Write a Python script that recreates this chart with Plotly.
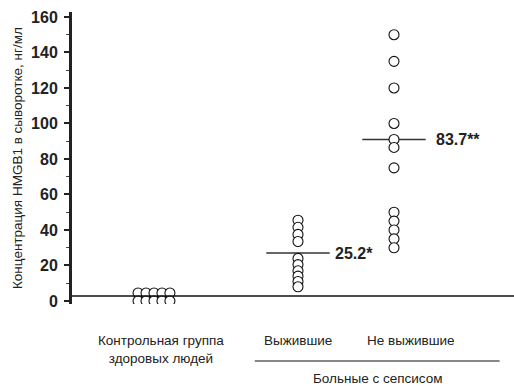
import plotly.graph_objects as go

# ---- data ----
group_names = ["Контрольная группа<br>здоровых людей", "Выжившие", "Не выжившие"]
group_pos = [0.0, 1.5, 2.5]
control_vals = [4.5, 4.5, 4.5, 4.5, 4.5, 0, 0, 0, 0, 0]
survivor_vals = [45.5, 41.5, 37.5, 33.5, 24, 20.5, 17, 14, 11, 8]
nonsurvivor_vals = [150, 135, 120, 100, 91, 86.5, 75, 50, 45, 40, 35, 30]
center_vals = [27, 91]
center_labels = ["25.2*", "83.7**"]
baseline_val = 2.8
y_ticks = [0, 20, 40, 60, 80, 100, 120, 140, 160]
group_label = "Больные с сепсисом"
y_title = "Концентрация HMGB1 в сыворотке, нг/мл"

FONT = "Liberation Sans, Arial, sans-serif"
L, R, T, B, W, H = 72, 0, 12, 82, 514, 386
PH = H - T - B
PW = W - L - R

fig = go.Figure()

marker = dict(size=10, color="white", symbol="circle",
              line=dict(color="#111", width=1.1))

# control: 5 columns x 2 rows
ncol = 5
cx = [group_pos[0] + (i % ncol - (ncol - 1) / 2) * 0.083 for i in range(len(control_vals))]
fig.add_trace(go.Scatter(x=cx, y=control_vals, mode="markers", marker=marker, hoverinfo="skip"))
fig.add_trace(go.Scatter(x=[group_pos[1]] * len(survivor_vals), y=survivor_vals,
                         mode="markers", marker=marker, hoverinfo="skip"))
fig.add_trace(go.Scatter(x=[group_pos[2]] * len(nonsurvivor_vals), y=nonsurvivor_vals,
                         mode="markers", marker=marker, hoverinfo="skip"))

# baseline
fig.add_shape(type="line", xref="paper", yref="y", x0=0, x1=1, y0=baseline_val, y1=baseline_val,
              line=dict(color="#111", width=1.3))

# center lines and labels
label_gap = [0.36, 0.42]
for gp, v, lab, g in zip(group_pos[1:], center_vals, center_labels, label_gap):
    fig.add_shape(type="line", xref="x", yref="y", x0=gp - 0.33, x1=gp + 0.33, y0=v, y1=v,
                  line=dict(color="#333", width=1.4), layer="below")
    fig.add_annotation(x=gp + g, y=v, text="<b>%s</b>" % lab, showarrow=False,
                       xanchor="left", yanchor="middle",
                       font=dict(size=16, color="#222", family=FONT))

# category labels (text is offset slightly from the point columns)
label_shift = [0.07, 0.0, 0.18]
for gp, name, s in zip(group_pos, group_names, label_shift):
    fig.add_annotation(x=gp + s, y=-(331 - (T + PH)) / PH, yref="paper", text=name,
                       showarrow=False, xanchor="center", yanchor="top",
                       font=dict(size=13.5, color="#222", family=FONT))

# sepsis bracket line and label
fig.add_shape(type="line", xref="x", yref="paper", x0=group_pos[1] - 0.45, x1=group_pos[2] + 1.1,
              y0=-(361 - (T + PH)) / PH, y1=-(361 - (T + PH)) / PH,
              line=dict(color="#111", width=1.2))
fig.add_annotation(x=(group_pos[1] + group_pos[2]) / 2 + 0.33, y=-(378 - (T + PH)) / PH,
                   yref="paper", text=group_label, showarrow=False,
                   xanchor="center", yanchor="middle",
                   font=dict(size=13.5, color="#222", family=FONT))

# y-axis title
fig.add_annotation(x=-(72 - 17) / PW, xref="paper", y=0.5, yref="paper", text=y_title,
                   textangle=-90, showarrow=False, xanchor="center", yanchor="middle",
                   font=dict(size=13.5, color="#222", family=FONT))

fig.update_layout(
    width=W, height=H,
    margin=dict(l=L, r=R, t=T, b=B, autoexpand=False),
    plot_bgcolor="white", paper_bgcolor="white",
    showlegend=False,
    font=dict(family=FONT, color="#222"),
    xaxis=dict(range=[-0.854, 3.75], showgrid=False, zeroline=False, showticklabels=False,
               showline=False, ticks="", automargin=False),
    yaxis=dict(range=[-1.7, 162.8], tickvals=y_ticks, automargin=False,
               ticktext=["<b>%d</b>" % t for t in y_ticks],
               tickfont=dict(size=16, color="#222", family=FONT), ticklabelstandoff=3,
               showgrid=False, zeroline=False, showline=True, linecolor="#222", linewidth=3,
               ticks="outside", ticklen=5, tickwidth=1.5, tickcolor="#222",
               minor=dict(dtick=10, ticks="outside", ticklen=3, tickwidth=1.2, tickcolor="#444")),
)

fig.write_html("out.html", config={"displayModeBar": False},
               post_script="document.body.style.margin='0';")
